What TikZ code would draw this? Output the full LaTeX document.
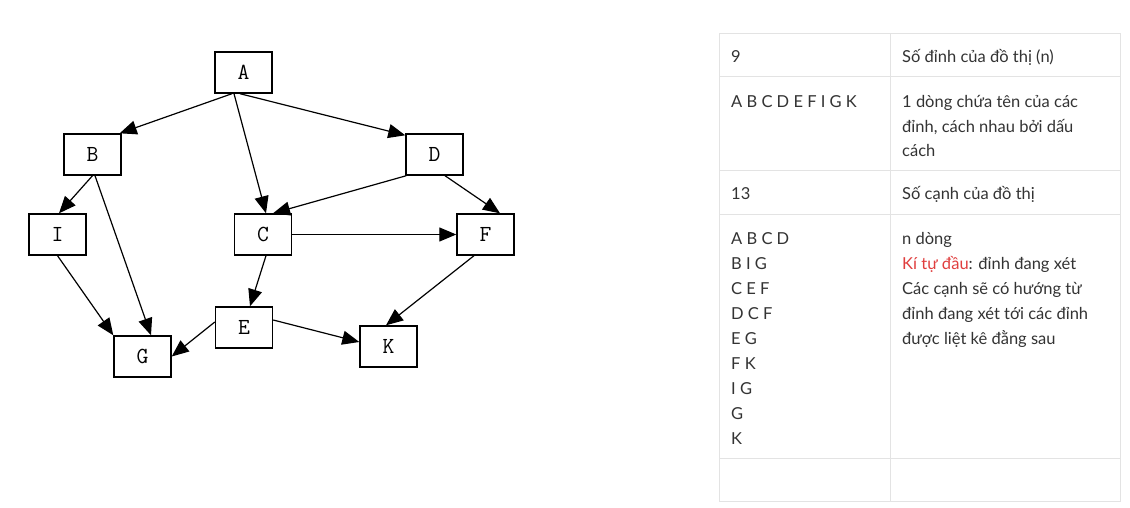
\documentclass[tikz,border=0pt]{standalone}
\usepackage{fontspec}
\setmainfont{Lato}
\usetikzlibrary{arrows.meta}
\definecolor{txt}{HTML}{333333}
\definecolor{rulec}{HTML}{E3E3E3}
\definecolor{redtxt}{HTML}{E03E3E}
\tikzset{
  gbox/.style={draw, line width=1.4pt, minimum width=57pt, minimum height=41pt, inner sep=0pt,
    font=\ttfamily\fontsize{23}{23}\selectfont},
  edge/.style={line width=1.2pt, -{Triangle[length=17pt,width=14pt]}},
  cell/.style={anchor=base west, inner sep=0pt, text=txt, font=\fontsize{16.5}{24}\selectfont},
  gridline/.style={draw=rulec, line width=1pt}
}
\begin{document}
\begin{tikzpicture}[x=1pt,y=-1pt]
\useasboundingbox[fill=white] (0,0) rectangle (1130,508);
% graph nodes
\node[gbox] (A) at (243.5,72.5) {\raisebox{-3pt}{A}};
\node[gbox] (B) at (92.5,154.5) {\raisebox{-3pt}{B}};
\node[gbox] (D) at (434.5,154.5) {\raisebox{-3pt}{D}};
\node[gbox] (I) at (57.5,234.5) {\raisebox{-3pt}{I}};
\node[gbox] (C) at (263,234.5) {\raisebox{-3pt}{C}};
\node[gbox] (F) at (485.5,234.5) {\raisebox{-3pt}{F}};
\node[gbox] (E) at (244,327.5) {\raisebox{-3pt}{E}};
\node[gbox] (K) at (388.5,346.5) {\raisebox{-3pt}{K}};
\node[gbox] (G) at (142.5,356.5) {\raisebox{-3pt}{G}};
% edges
\draw[edge] ([xshift=-11.5pt]A.south) -- ([xshift=-2pt]B.north east);
\draw[edge] ([xshift=-9.5pt]A.south) -- ([xshift=3pt]C.north);
\draw[edge] ([xshift=-3.5pt]A.south) -- ([yshift=-2pt]D.north west);
\draw[edge] ([xshift=1pt]D.south west) -- ([xshift=10pt]C.north);
\draw[edge] ([xshift=10.5pt]D.south) -- ([xshift=14.5pt]F.north);
\draw[edge] (B.south) -- ([xshift=1.5pt]I.north);
\draw[edge] ([xshift=2.5pt]B.south) -- ([xshift=8.5pt]G.north);
\draw[edge] (I.south) -- (G.north west);
\draw[edge] (C.east) -- (F.west);
\draw[edge] ([xshift=3pt]C.south) -- ([xshift=6pt]E.north);
\draw[edge] ([yshift=5.5pt]E.west) -- (G.east);
\draw[edge] ([yshift=7.5pt]E.east) -- ([yshift=4.5pt]K.west);
\draw[edge] ([xshift=-11.5pt]F.south) -- ([xshift=-2.5pt]K.north);
% table grid
\draw[gridline] (719,34) rectangle (1120,501);
\draw[gridline] (890,34) -- (890,501);
\foreach \yy in {77,171,214,458} \draw[gridline] (719,\yy) -- (1120,\yy);
% row 1
\node[cell] (r1a) at (731,63) {9};
\node[cell] (r1b) at (902,63) {Số đỉnh của đồ thị (n)};
% row 2
\node[cell] (r2a) at (731,108) {A B C D E F I G K};
\node[cell] (r2b1) at (902,108) {1 dòng chứa tên của các};
\node[cell] (r2b2) at (902,132.5) {đỉnh, cách nhau bởi dấu};
\node[cell] (r2b3) at (902,157) {cách};
% row 3
\node[cell] (r3a) at (731,200) {13};
\node[cell] (r3b) at (902,200) {Số cạnh của đồ thị};
% row 4
\foreach \t [count=\k from 0] in {A B C D,B I G,C E F,D C F,E G,F K,I G,G,K}
  \node[cell] (r4a\k) at (731,244+25*\k) {\t};
\node[cell] (r4b0) at (902,244) {n dòng};
\node[cell] (r4b1) at (902,269) {\textcolor{redtxt}{Kí tự đầu}: đỉnh đang xét};
\node[cell] (r4b2) at (902,294) {Các cạnh sẽ có hướng từ};
\node[cell] (r4b3) at (902,319) {đỉnh đang xét tới các đỉnh};
\node[cell] (r4b4) at (902,344) {được liệt kê đằng sau};
\end{tikzpicture}
\end{document}
